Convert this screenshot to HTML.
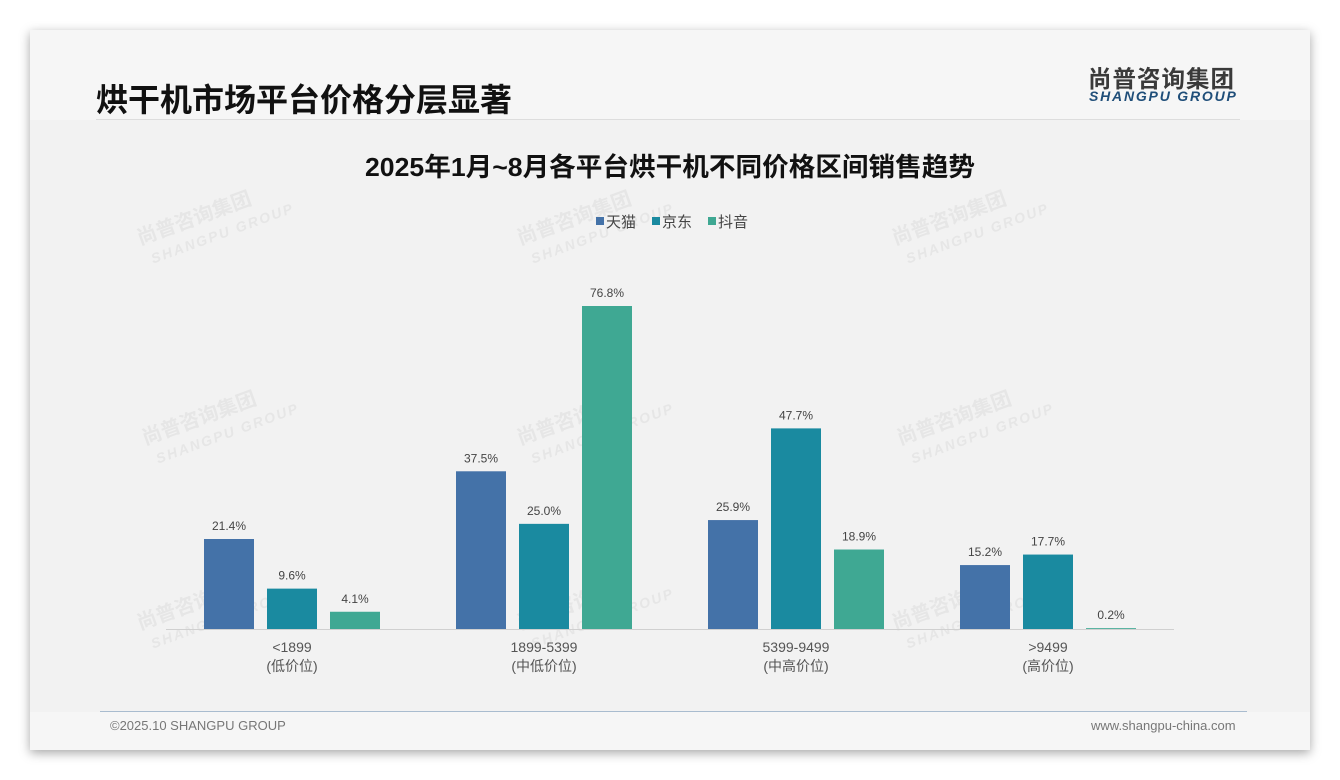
<!DOCTYPE html>
<html><head><meta charset="utf-8">
<style>
body{margin:0;width:1340px;height:780px;background:#fff;overflow:hidden;font-family:"Liberation Sans","Noto Sans CJK SC",sans-serif;}
#card{position:absolute;left:30px;top:30px;width:1280px;height:720px;background:#f6f6f6;box-shadow:0 3px 10px rgba(0,0,0,0.35);}
#inner{position:absolute;left:30px;top:120px;width:1280px;height:592px;background:#f2f2f2;}
.t{position:absolute;white-space:nowrap;}
</style></head><body>
<div id="card"></div>
<div id="inner"></div>
<div class="t" style="left:96px;top:75px;font-size:32px;font-weight:bold;color:#111;">烘干机市场平台价格分层显著</div>
<div style="position:absolute;left:96px;top:119px;width:1144px;height:1px;background:#ddd;"></div>
<div class="t" style="left:1088px;top:60px;font-size:23.5px;font-weight:bold;color:#3a3a3a;letter-spacing:1px;">尚普咨询集团</div>
<div class="t" style="left:1089px;top:88px;font-size:14px;font-weight:bold;font-style:italic;color:#1f4e79;letter-spacing:1.8px;">SHANGPU GROUP</div>
<svg id="chart" width="1340" height="780" style="position:absolute;left:0;top:0"></svg>
<div style="position:absolute;left:100px;top:711px;width:1147px;height:1px;background:#a9bccf;"></div>
<div class="t" style="left:110px;top:718px;font-size:13px;color:#777;">©2025.10 SHANGPU GROUP</div>
<div class="t" style="left:1091px;top:718px;font-size:13px;color:#777;">www.shangpu-china.com</div>
<script>
const categories=["<1899","1899-5399","5399-9499",">9499"];
const subLabels=["(低价位)","(中低价位)","(中高价位)","(高价位)"];
const seriesNames=["天猫","京东","抖音"];
const tmall=[21.4,37.5,25.9,15.2];
const jd=[9.6,25.0,47.7,17.7];
const douyin=[4.1,76.8,18.9,0.2];
const series=[tmall,jd,douyin];
const colors=["#4472a8","#1a8aa0","#3fa893"];
const NS="http://www.w3.org/2000/svg";
const svg=document.getElementById('chart');
const base=629,scale=323/76.8;
const y=v=>base-v*scale;
const gx=i=>292+i*252;
function el(t,a,txt){const e=document.createElementNS(NS,t);for(const k in a)e.setAttribute(k,a[k]);if(txt!==undefined)e.textContent=txt;svg.appendChild(e);return e;}
[[140,245],[520,245],[895,245],[145,445],[520,445],[900,445],[140,630],[520,630],[895,630]].forEach(p=>{
 const w=el('text',{x:p[0],y:p[1],transform:`rotate(-20 ${p[0]} ${p[1]})`,'font-size':20,'font-weight':'bold',fill:'#e6e6e6'},'尚普咨询集团');
 
 
 const w2=el('text',{x:p[0]+6,y:p[1]+22,transform:`rotate(-20 ${p[0]} ${p[1]})`,'font-size':14,'font-weight':'bold','font-style':'italic',fill:'#e6e6e6','letter-spacing':2},'SHANGPU GROUP');
 
 
});
const title=el('text',{x:670,y:176,'text-anchor':'middle','font-size':26,'font-weight':'bold',fill:'#111',textLength:610,lengthAdjust:'spacingAndGlyphs'},'2025年1月~8月各平台烘干机不同价格区间销售趋势');


const legX=[596,652,708];
seriesNames.forEach((n,s)=>{
 const r=el('rect',{x:legX[s],y:217,width:8,height:8,fill:colors[s]});
 
 
 const t=el('text',{x:legX[s]+10,y:227,'font-size':15,fill:'#444'},n);
 
 
});
const ax=el('line',{x1:166,x2:1174,y1:base+0.5,y2:base+0.5,stroke:'#d0d0d0','stroke-width':1});


categories.forEach((c,i)=>{
 series.forEach((vals,s)=>{
  const bx=gx(i)-88+s*63;
  const v=vals[i];
  const r=el('rect',{x:bx,y:y(v),width:50,height:v*scale,fill:colors[s]});
  
  
  const l=el('text',{x:bx+25,y:y(v)-9,'text-anchor':'middle','font-size':12,fill:'#444'},v.toFixed(1)+'%');
  
  
 });
 const t=el('text',{x:gx(i),y:652,'text-anchor':'middle','font-size':14,fill:'#555'},c);
 
 
 const t2=el('text',{x:gx(i),y:671,'text-anchor':'middle','font-size':14,fill:'#555'},subLabels[i]);
 
 
});
</script>
</body></html>
